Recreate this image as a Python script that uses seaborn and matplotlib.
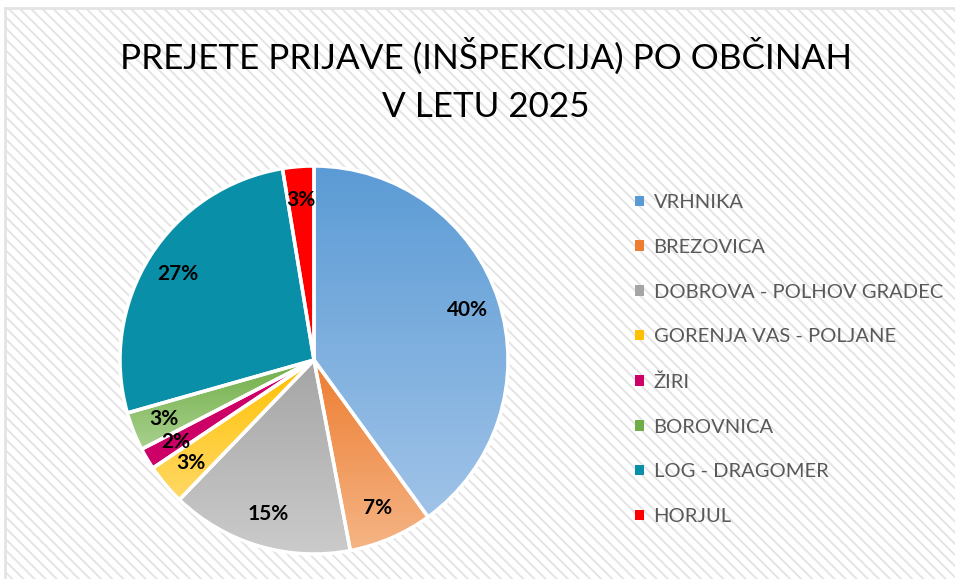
import numpy as np
import matplotlib.pyplot as plt
import matplotlib.patches as mpatches
import matplotlib.colors as mcolors
import seaborn as sns

# data (shares in %)
municipalities = ['VRHNIKA', 'BREZOVICA', 'DOBROVA - POLHOV GRADEC', 'GORENJA VAS - POLJANE',
                  'ŽIRI', 'BOROVNICA', 'LOG - DRAGOMER', 'HORJUL']
shares = [40.0, 7.0, 15.2, 3.4, 1.8, 3.2, 26.8, 2.6]
title_lines = ['PREJETE PRIJAVE (INŠPEKCIJA) PO OBČINAH', 'V LETU 2025']

# gradient colours per slice (top -> bottom)
top_colors = ['#5b9bd5', '#ed7d31', '#a5a5a5', '#ffc000', '#cc0066', '#70ad47', '#0a8fa8', '#ff0000']
bottom_colors = ['#a0c3e8', '#f5b586', '#cbcbcb', '#ffd966', '#cc0066', '#a9d18e', '#0a8fa8', '#ff0000']

sns.set_theme(style='white')
plt.rcParams['font.family'] = ['Lato', 'DejaVu Sans']
plt.rcParams['hatch.linewidth'] = 1.4

fig = plt.figure(figsize=(9.55, 5.79), dpi=100)
fig.patch.set_facecolor('white')

# hatched chart area background with light frame
bg = mpatches.Rectangle((5 / 955, -0.01), 1.0, 1 - 8 / 579 + 0.01, transform=fig.transFigure,
                        facecolor='white', edgecolor='#e4e4e4', hatch='\\' * 3, lw=2, zorder=-5)
fig.patches.append(bg)

ax = fig.add_axes([120 / 955, 25 / 579, 388 / 955, 388 / 579])
ax.patch.set_alpha(0)

wedges, texts, autotexts = ax.pie(
    shares, startangle=90, counterclock=False, autopct='%.0f%%', pctdistance=0.83,
    wedgeprops=dict(edgecolor='white', linewidth=2.5),
    textprops=dict(fontsize=15, fontweight='bold', color='black'))

grad = np.linspace(0, 1, 256).reshape(-1, 1)
for w, c_top, c_bot in zip(wedges, top_colors, bottom_colors):
    bb = w.get_path().get_extents()
    cmap = mcolors.LinearSegmentedColormap.from_list('g', [c_bot, c_top])
    im = ax.imshow(grad, cmap=cmap, origin='lower', aspect='auto', interpolation='bilinear',
                   extent=[bb.x0, bb.x1, bb.y0, bb.y1], zorder=1)
    im.set_clip_path(w)
    w.set_facecolor('none')
    w.set_zorder(2)
for t in autotexts:
    t.set_zorder(3)

ax.set_xlim(-1, 1)
ax.set_ylim(-1, 1)
ax.set_aspect('equal')
ax.set_axis_off()

fig.text(486 / 955, 1 - 69 / 579, title_lines[0], ha='center', va='baseline', fontsize=25.2, color='black')
fig.text(486 / 955, 1 - 117 / 579, title_lines[1], ha='center', va='baseline', fontsize=25.2, color='black')

handles = [mpatches.Patch(facecolor=c, edgecolor='none') for c in top_colors]
leg = fig.legend(handles, municipalities, loc='upper left', bbox_to_anchor=(625 / 955, 1 - 184 / 579),
                 frameon=False, fontsize=14.5, handlelength=0.42, handleheight=0.42,
                 handletextpad=0.5, labelspacing=1.38, borderpad=0)
for t in leg.get_texts():
    t.set_color('#595959')

fig.savefig('out.png', dpi=100)
